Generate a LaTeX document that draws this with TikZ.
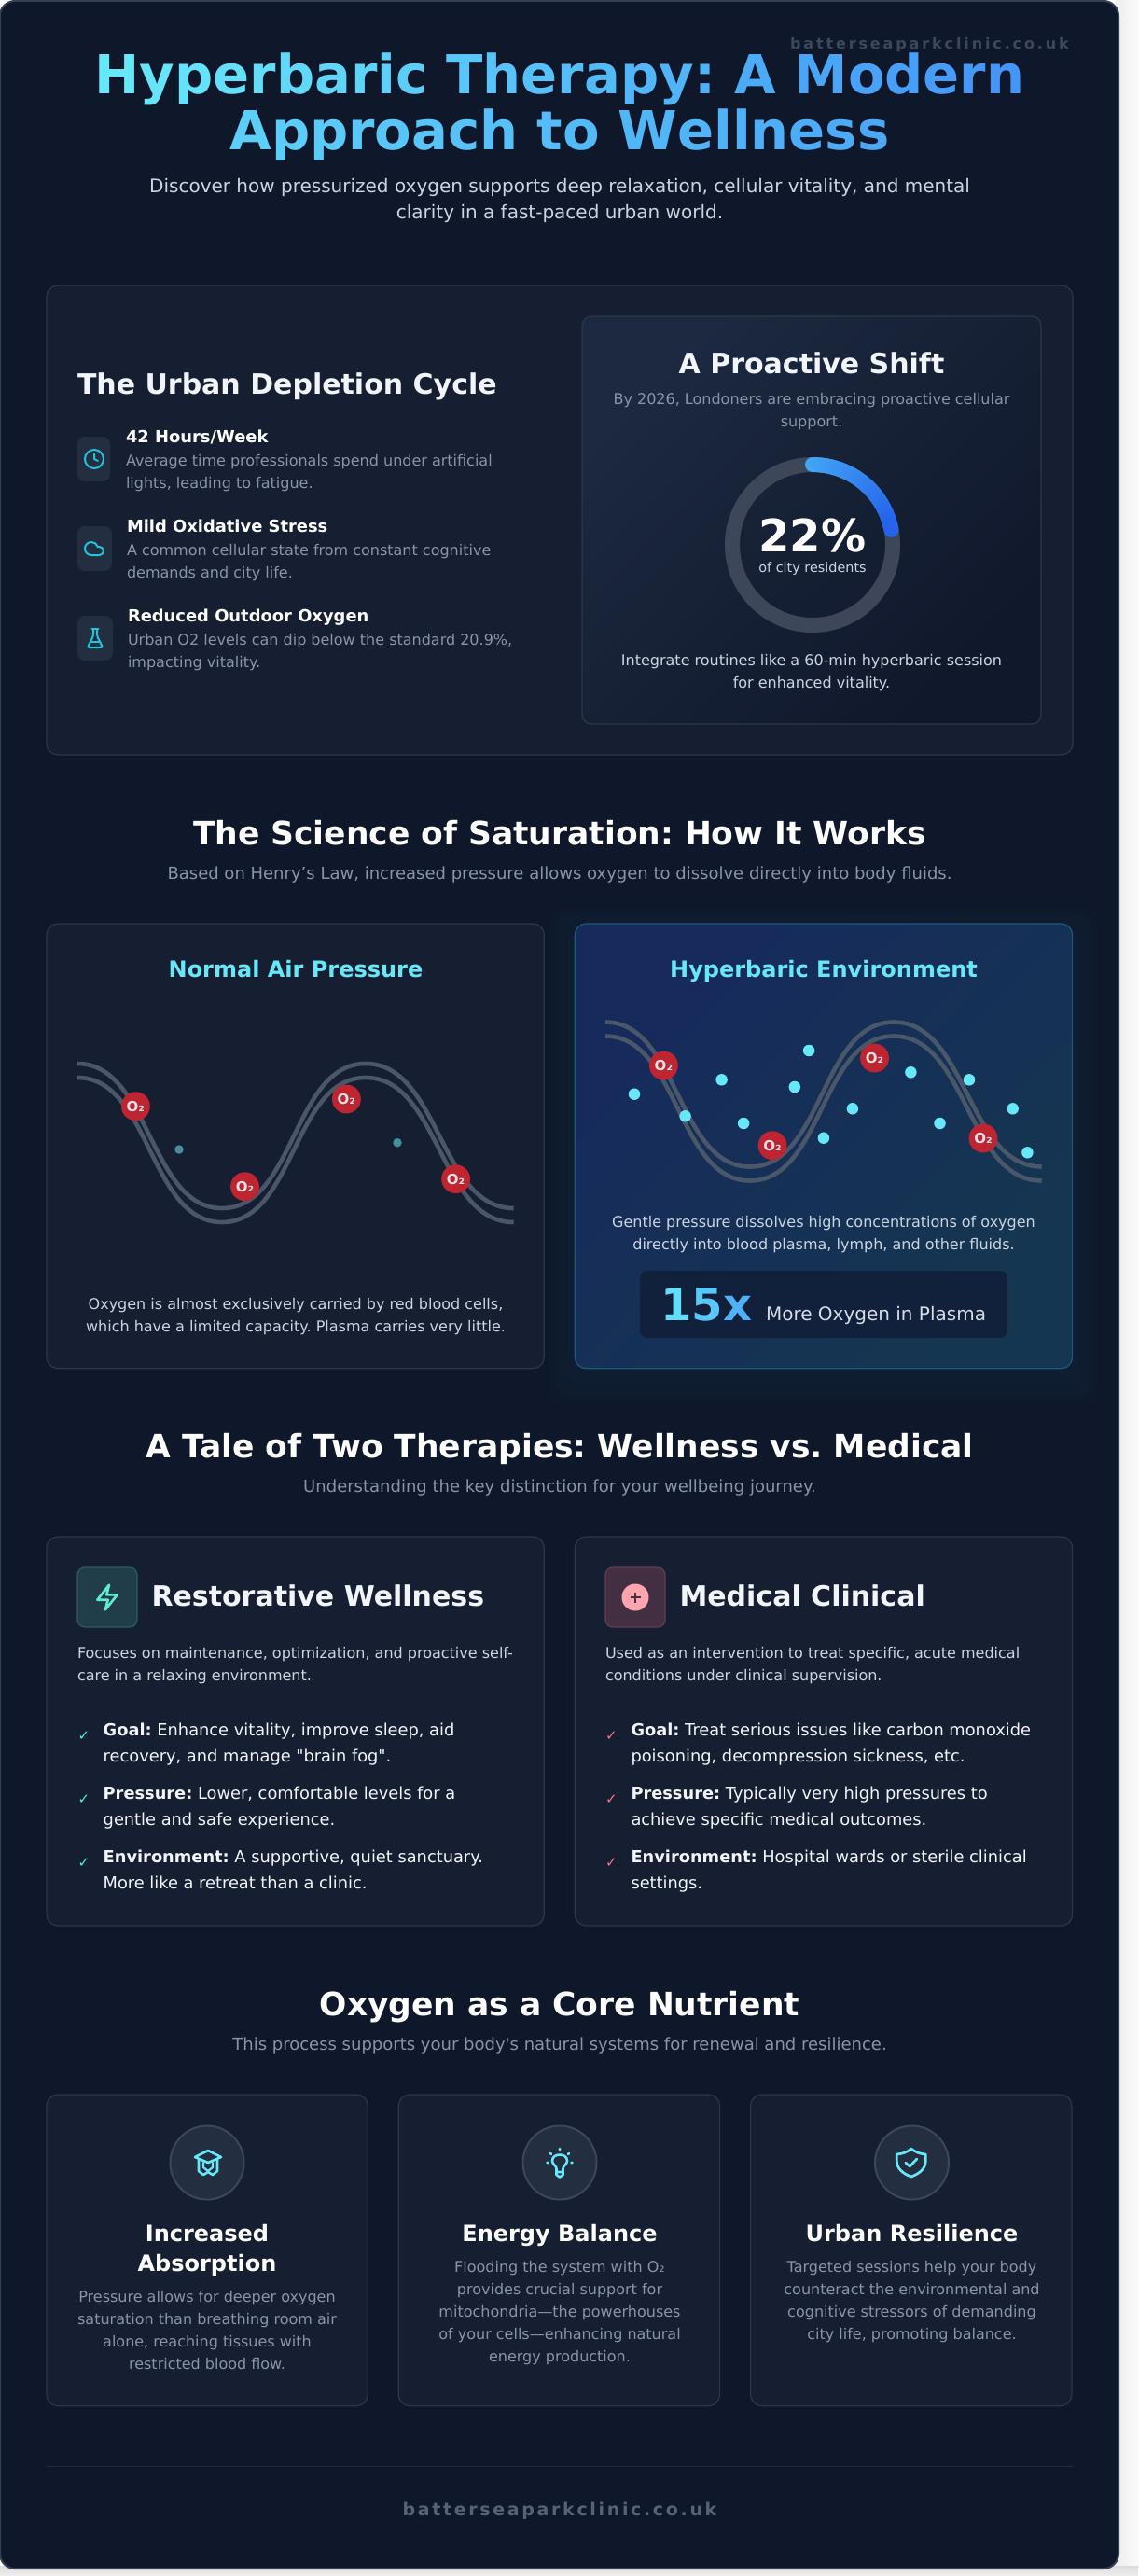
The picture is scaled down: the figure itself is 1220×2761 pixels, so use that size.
\documentclass[tikz,border=0pt]{standalone}
\usepackage{fontspec}
\usepackage{tikz}
\usetikzlibrary{
  positioning,
}
\newfontfamily\dejavu{DejaVu Sans}
\frenchspacing
\definecolor{sheet}{HTML}{0F172A}
\definecolor{sheetedge}{HTML}{334155}
\definecolor{panelfill}{HTML}{161F31}
\definecolor{paneledge}{HTML}{2D374A}
\definecolor{tile}{HTML}{232E41}
\definecolor{skyicon}{HTML}{22C3DE}
\definecolor{cyanlight}{HTML}{67E8F9}
\definecolor{grada}{HTML}{67E8F9}
\definecolor{gradb}{HTML}{3B82F6}
\definecolor{ringbase}{HTML}{3D4759}
\definecolor{ringa}{HTML}{42A5F5}
\definecolor{ringb}{HTML}{2563EB}
\definecolor{muted}{HTML}{8A94A8}
\definecolor{soft}{HTML}{CBD5E1}
\definecolor{snow}{HTML}{F1F5F9}
\definecolor{bloodline}{HTML}{4A5768}
\definecolor{cellred}{HTML}{BF2530}
\definecolor{cellink}{HTML}{E8DFE2}
\definecolor{teal}{HTML}{5EEAD4}
\definecolor{rose}{HTML}{FB7185}
\definecolor{pinkdisc}{HTML}{FDA4AF}
\definecolor{hypera}{HTML}{162A5C}
\definecolor{hyperb}{HTML}{153650}
\definecolor{hyperedge}{HTML}{1D5A7A}
\definecolor{shifta}{HTML}{1C2940}
\definecolor{shiftb}{HTML}{10182B}
\definecolor{statbox}{HTML}{11203B}
\newcount\gradpos
\newcommand{\gradtext}[3]{\gradpos=#1\relax\def\gradinc{#2}\gradloop#3\relax}
\def\gradloop#1{\ifx\relax#1\else\textcolor{gradb!\the\gradpos!grada}{#1}\advance\gradpos by \gradinc\relax\expandafter\gradloop\fi}
\tikzstyle{txt} = [inner sep=0pt, outer sep=0pt, anchor=base]
\tikzstyle{txtl} = [txt, anchor=base west, align=left]
\tikzstyle{txtc} = [txt, align=center]
\tikzstyle{mainhead} = [txtc, text=white, font=\dejavu\bfseries\fontsize{34.5}{42}\selectfont]
\tikzstyle{mainsub} = [txtc, text=muted, font=\dejavu\fontsize{18}{24}\selectfont]
\tikzstyle{panel} = [
  rectangle,
  rounded corners=12pt,
  anchor=north west,
  inner sep=0pt,
  outer sep=0pt,
  fill=panelfill,
  draw=paneledge,
  line width=1.2pt,
]
\tikzstyle{icontile} = [panel, rounded corners=8pt, minimum width=64, minimum height=64]
\tikzstyle{smalltile} = [panel, rounded corners=8pt, fill=tile, draw=none, minimum height=48]
\tikzstyle{disc} = [circle, inner sep=0pt, outer sep=0pt, minimum size=79, fill=tile, draw=ringbase, line width=2pt]
\tikzstyle{glyph} = [line width=2pt, line cap=round, line join=round]
\tikzstyle{itemhead} = [txtl, text=white, font=\dejavu\bfseries\fontsize{17.9}{24}\selectfont]
\tikzstyle{itemtext} = [txtl, text=muted, font=\dejavu\fontsize{16}{24}\selectfont]
\tikzstyle{cardhead} = [txtl, text=snow, font=\dejavu\bfseries\fontsize{30}{38}\selectfont]
\tikzstyle{cardtext} = [txtl, text=soft, font=\dejavu\fontsize{16}{24}\selectfont]
\tikzstyle{factlist} = [txtl, text=snow, font=\dejavu\fontsize{17.8}{28}\selectfont]
\tikzstyle{tick} = [txt, font=\dejavu\fontsize{15}{15}\selectfont]
\tikzstyle{presshead} = [txtc, text=cyanlight, font=\dejavu\bfseries\fontsize{24}{30}\selectfont]
\tikzstyle{presstext} = [txtc, text=soft, font=\dejavu\fontsize{16}{24}\selectfont]
\tikzstyle{nutrhead} = [txtc, text=white, font=\dejavu\bfseries\fontsize{24}{32}\selectfont]
\tikzstyle{nutrtext} = [txtc, text=muted, font=\dejavu\fontsize{16}{24}\selectfont]
\tikzstyle{redcell} = [
  circle,
  fill=cellred,
  text=cellink,
  inner sep=0pt,
  minimum size=30.8,
  font=\dejavu\bfseries\fontsize{15}{15}\selectfont,
]
\tikzstyle{plasmadot} = [circle, inner sep=0pt, fill=cyanlight, minimum size=12.5]
\tikzstyle{faintdot} = [circle, inner sep=0pt, fill=cyanlight!55!panelfill, minimum size=9.5]

\begin{document}
\begin{tikzpicture}[x=1pt, y=-1pt]
\useasboundingbox (0,0) rectangle (1220,2761);

% page behind the sheet
\fill[white] (0,0) rectangle (1220,2761);
\shade[left color=black!7, right color=black!2] (1196,0) rectangle (1220,2761);
\shade[top color=black!14, bottom color=black!6] (0,2750) rectangle (1220,2761);
\fill[sheet, draw=sheetedge, line width=2pt, rounded corners=16pt] (0,1) rectangle (1199,2753);

% heading
\node[txtl, text=sheetedge!90!muted, font=\dejavu\bfseries\fontsize{16}{20}\selectfont\addfontfeature{LetterSpace=18}] (watermark) at (847,53) {batterseaparkclinic.co.uk};
\node[txtc, font=\dejavu\bfseries\fontsize{57.6}{60}\selectfont] (title) at (600,161) {\gradtext{0}{3}{Hyperbaric~Therapy:~A~Modern}\\\gradtext{25}{2}{Approach~to~Wellness}};
\node[txtc, text=soft, font=\dejavu\fontsize{20}{28}\selectfont] (lead) at (600,235) {Discover how pressurized oxygen supports deep relaxation, cellular vitality, and mental\\clarity in a fast-paced urban world.};

% urban depletion
\node[panel, minimum width=1100, minimum height=503] (urban) at (50,306) {};
\node[txtl, text=snow, font=\dejavu\bfseries\fontsize{30}{36}\selectfont] (urbanhead) at (83,422) {The Urban Depletion Cycle};
\node[smalltile, minimum width=35] (clocktile) at (83,468) {};
\node[smalltile, minimum width=37] (cloudtile) at (83,564) {};
\node[smalltile, minimum width=38] (flasktile) at (83,660) {};
\node[itemhead] (hourshead) at (135,474) {42 Hours/Week};
\node[itemtext] (hourstext) at (135,523) {Average time professionals spend under artificial\\lights, leading to fatigue.};
\node[itemhead] (stresshead) at (136,570) {Mild Oxidative Stress};
\node[itemtext] (stresstext) at (136,619) {A common cellular state from constant cognitive\\demands and city life.};
\node[itemhead] (oxyhead) at (137,666) {Reduced Outdoor Oxygen};
\node[itemtext] (oxytext) at (137,715) {Urban O2 levels can dip below the standard 20.9\%,\\impacting vitality.};
\begin{scope}[shift={(101,492)}, skyicon]
  \draw[glyph] (0,0) circle (10);
  \draw[glyph] (0,-6) -- (0,0) -- (4,2);
\end{scope}
\begin{scope}[shift={(89,576)}, skyicon]
  \draw[glyph] (17.5,19) -- (9,19) arc[start angle=90, end angle=343.4, radius=7] -- (17.5,10) arc[start angle=270, end angle=450, radius=4.5] -- cycle;
\end{scope}
\begin{scope}[shift={(90,672)}, skyicon]
  \draw[glyph, rounded corners=1.5pt] (10,2) -- (10,9.5) -- (4.3,21) -- (5.5,22) -- (18.5,22) -- (19.7,21) -- (14,9.5) -- (14,2);
  \draw[glyph] (8.5,2) -- (15.5,2);
  \draw[glyph] (7,16) -- (17,16);
\end{scope}

% proactive shift
\node[panel, rounded corners=10pt, minimum width=492, minimum height=437, top color=shifta, bottom color=shiftb, shading angle=45] (shift) at (624,339) {};
\node[txtc, text=snow, font=\dejavu\bfseries\fontsize{30}{36}\selectfont] (shifthead) at (870,400) {A Proactive Shift};
\node[txtc, text=muted, font=\dejavu\fontsize{16}{24}\selectfont] (shifttext) at (870,457) {By 2026, Londoners are embracing proactive cellular\\support.};
\node[circle, draw=ringbase, line width=16pt, inner sep=0pt, outer sep=0pt, minimum size=172] (ring) at (871,584) {};
\begin{scope}[shift={(871,584)}]
  \foreach \i [evaluate=\i as \pct using int(100*\i/23), evaluate=\i as \ang using -90+3.3*\i] in {0,...,23}
    \draw[line width=16pt, line cap=round, color=ringb!\pct!ringa] (\ang:86) arc[start angle=\ang, delta angle=3.3, radius=86];
\end{scope}
\node[txtc, text=white, font=\dejavu\bfseries\fontsize{48}{50}\selectfont] (ringnum) at (871,591) {22\%};
\node[txtc, text=soft, font=\dejavu\fontsize{14.4}{18}\selectfont] (ringlabel) at (871,613) {of city residents};
\node[txtc, text=soft, font=\dejavu\fontsize{16}{24}\selectfont] (shiftfoot) at (870,737) {Integrate routines like a 60-min hyperbaric session\\for enhanced vitality.};

% saturation
\node[mainhead] (sciencehead) at (600,905) {The Science of Saturation: How It Works};
\node[mainsub] (sciencesub) at (600,942) {Based on Henry’s Law, increased pressure allows oxygen to dissolve directly into body fluids.};
\node[panel, minimum width=533.3, minimum height=476.7] (normal) at (50,990) {};
% glow round the hyperbaric panel
\foreach \g in {28,21,14,7}
  \fill[hyperedge, opacity=.03, rounded corners=16pt] (616.4-\g,990-\g+10) rectangle (1149.7+\g,1466.7+\g+10);
\node[panel, minimum width=533.3, minimum height=476.7, right=33pt of normal, top color=hypera, bottom color=hyperb, shading angle=45, draw=hyperedge] (hyper) {};
\node[presshead] (normalhead) at (317,1047) {Normal Air Pressure};
\node[presshead] (hyperhead) at (883,1047) {Hyperbaric Environment};
% blood vessels, same curve in both panels
\foreach \sx/\sy in {0/0, 566/-44.5} {
  \begin{scope}[shift={(\sx,\sy)}]
    \foreach \dy in {0,15}
      \draw[bloodline, line width=4.6pt] (83,1140+\dy) .. controls (161,1140+\dy) and (160,1295+\dy) .. (238,1295+\dy) .. controls (316,1295+\dy) and (314,1140+\dy) .. (392,1140+\dy) .. controls (471,1140+\dy) and (471,1295+\dy) .. (550.7,1295+\dy);
  \end{scope}
}
\node[redcell] (cella) at (145.4,1185.7) {O₂};
\node[redcell] (cellb) at (262.5,1271.7) {O₂};
\node[redcell] (cellc) at (371.4,1178) {O₂};
\node[redcell] (celld) at (488.6,1263.7) {O₂};
\node[faintdot] (faint1) at (192,1232) {};
\node[faintdot] (faint2) at (426,1224.7) {};
\node[redcell] (cellw) at (711.4,1142) {O₂};
\node[redcell] (cellx) at (828,1227.7) {O₂};
\node[redcell] (celly) at (937.5,1134) {O₂};
\node[redcell] (cellz) at (1054,1220) {O₂};
\foreach \px/\py [count=\n] in {680/1172.7, 734.6/1196.3, 773.6/1157.3, 797.1/1204, 851.8/1165, 867.1/1126, 882.9/1219.7, 913.9/1188.3, 976.4/1149.3, 1007.5/1204, 1039/1157.3, 1085.7/1188.3, 1101.4/1235.3}
  \node[plasmadot] (dot\n) at (\px,\py) {};
\node[presstext] (normaltext) at (317,1427) {Oxygen is almost exclusively carried by red blood cells,\\which have a limited capacity. Plasma carries very little.};
\node[presstext] (hypertext) at (883,1339) {Gentle pressure dissolves high concentrations of oxygen\\directly into blood plasma, lymph, and other fluids.};
\node[panel, rounded corners=8pt, fill=statbox, draw=none, minimum width=394, minimum height=72] (stat) at (686,1362) {};
\node[txtl, font=\dejavu\bfseries\fontsize{48}{50}\selectfont] (statnum) at (708.5,1415) {\gradtext{10}{22}{15x}};
\node[txtl, text=soft!80!white, font=\dejavu\fontsize{20}{24}\selectfont] (statlabel) at (821,1415) {More Oxygen in Plasma};

% two therapies
\node[mainhead] (talehead) at (600,1562) {A Tale of Two Therapies: Wellness vs. Medical};
\node[mainsub] (talesub) at (600,1599) {Understanding the key distinction for your wellbeing journey.};
\node[panel, minimum width=533.3, minimum height=417] (wellness) at (50,1647) {};
\node[panel, minimum width=533.3, minimum height=417, right=33pt of wellness] (medical) {};
\node[icontile, fill=teal!15!panelfill, draw=teal!30!panelfill] (bolttile) at (83,1680) {};
\node[icontile, fill=rose!20!panelfill, draw=rose!35!panelfill] (plustile) at (649,1680) {};
\begin{scope}[shift={(115,1712)}, scale=1.33]
  \draw[glyph, teal, line width=2.66pt] (-8,2) -- (1.5,-10) -- (-0.5,-2) -- (8,-2) -- (-1.5,10) -- (0.5,2) -- cycle;
\end{scope}
\node[circle, fill=pinkdisc, inner sep=0pt, minimum size=29] (plusdisc) at (681,1712) {};
\draw[line width=2.7pt, rose!20!panelfill] (plusdisc.center) +(-5.5,0) -- +(5.5,0) +(0,-5.5) -- +(0,5.5);
\node[cardhead, yshift=-9.7pt] (wellhead) [base right=15.5pt of bolttile.east] {Restorative Wellness};
\node[cardhead, yshift=-9.7pt] (medhead) [base right=15.5pt of plustile.east] {Medical Clinical};
\node[cardtext] (welltext) at (83,1801) {Focuses on maintenance, optimization, and proactive self-\\care in a relaxing environment.};
\node[cardtext] (medtext) at (649,1801) {Used as an intervention to treat specific, acute medical\\conditions under clinical supervision.};
\foreach \cy [count=\n] in {1865,1933,2001} {
  \node[tick, text=teal!70!cyan] (welltick\n) at (90,\cy) {✓};
  \node[tick, text=rose] (medtick\n) at (655.5,\cy) {✓};
}
\node[factlist] (wellgoal) at (110.7,1888) {\textbf{Goal:} Enhance vitality, improve sleep, aid\\recovery, and manage "brain fog".};
\node[factlist] (wellpress) at (110.7,1956) {\textbf{Pressure:} Lower, comfortable levels for a\\gentle and safe experience.};
\node[factlist] (wellenv) at (110.7,2024) {\textbf{Environment:} A supportive, quiet sanctuary.\\More like a retreat than a clinic.};
\node[factlist] (medgoal) at (676.5,1888) {\textbf{Goal:} Treat serious issues like carbon monoxide\\poisoning, decompression sickness, etc.};
\node[factlist] (medpress) at (676.5,1956) {\textbf{Pressure:} Typically very high pressures to\\achieve specific medical outcomes.};
\node[factlist] (medenv) at (676.5,2024) {\textbf{Environment:} Hospital wards or sterile clinical\\settings.};

% nutrient
\node[mainhead] (nutrhead) at (600,2160) {Oxygen as a Core Nutrient};
\node[mainsub] (nutrsub) at (600,2197) {This process supports your body's natural systems for renewal and resilience.};
\node[panel, minimum width=344.3, minimum height=333.7] (absorb) at (50,2245) {};
\node[panel, minimum width=344.3, minimum height=333.7, right=33pt of absorb] (energy) {};
\node[panel, minimum width=344.3, minimum height=333.7, right=33pt of energy] (resil) {};
\node[disc] (absorbdisc) at (222,2318) {};
\node[disc] (energydisc) at (600,2318) {};
\node[disc] (resildisc) at (977.5,2318) {};
\begin{scope}[shift={(222,2318)}, cyanlight]
  \draw[glyph, line width=2.6pt] (-13,-6) -- (1,-13) -- (15,-6) -- (1,0) -- cycle;
  \draw[glyph, line width=2.6pt] (-9,-3) -- (-9,9) -- (-4,13) -- (1,10) -- (6,13) -- (11,9) -- (11,-3);
  \draw[glyph, line width=2.2pt] (-4,0) -- (-4,5) -- (1,9) -- (6,5) -- (6,0);
\end{scope}
\begin{scope}[shift={(600,2318)}, cyanlight]
  \draw[glyph, line width=2.6pt] (-3.5,6) .. controls (-4,3) and (-8,1.5) .. (-8,-2) .. controls (-8,-6.5) and (-4,-8.5) .. (0,-8.5) .. controls (4,-8.5) and (8,-6.5) .. (8,-2) .. controls (8,1.5) and (4,3) .. (3.5,6) -- (3.5,13) -- (0,15.5) -- (-3.5,13) -- cycle;
  \draw[glyph, line width=2.6pt] (0,-15) -- (0,-14) (-13.5,0) -- (-12.5,0) (13.5,0) -- (12.5,0) (-10,-10) -- (-9,-9) (10,-10) -- (9,-9) (-3,10) -- (3,10);
\end{scope}
\begin{scope}[shift={(976.8,2318)}, cyanlight]
  \draw[glyph, line width=2.7pt] (0,-15) .. controls (-4,-11.5) and (-9,-9.5) .. (-15.5,-9) -- (-15.5,-2) .. controls (-15.5,7) and (-8,12) .. (0,15) .. controls (8,12) and (15.5,7) .. (15.5,-2) -- (15.5,-9) .. controls (9,-9.5) and (4,-11.5) .. (0,-15) -- cycle;
  \draw[glyph, line width=2.7pt] (-6,0) -- (-1.5,4) -- (6,-4);
\end{scope}
\node[nutrhead] (absorbhead) at (222,2434) {Increased\\Absorption};
\node[nutrhead] (energyhead) at (600,2402) {Energy Balance};
\node[nutrhead] (resilhead) at (977.5,2402) {Urban Resilience};
\node[nutrtext] (absorbtext) at (222,2539) {Pressure allows for deeper oxygen\\saturation than breathing room air\\alone, reaching tissues with\\restricted blood flow.};
\node[nutrtext] (energytext) at (600,2531) {Flooding the system with O₂\\provides crucial support for\\mitochondria—the powerhouses\\of your cells—enhancing natural\\energy production.};
\node[nutrtext] (resiltext) at (977.5,2507) {Targeted sessions help your body\\counteract the environmental and\\cognitive stressors of demanding\\city life, promoting balance.};

% footer
\coordinate (ruleleft) at (50,2643.5);
\coordinate (ruleright) at (1150,2643.5);
\draw[paneledge!60!sheet, line width=1pt] (ruleleft) -- (ruleright);
\node[txtc, text=sheetedge!60!muted, font=\dejavu\bfseries\fontsize{19}{24}\selectfont\addfontfeature{LetterSpace=14}] (footer) at (600,2696) {batterseaparkclinic.co.uk};

\end{tikzpicture}
\end{document}
